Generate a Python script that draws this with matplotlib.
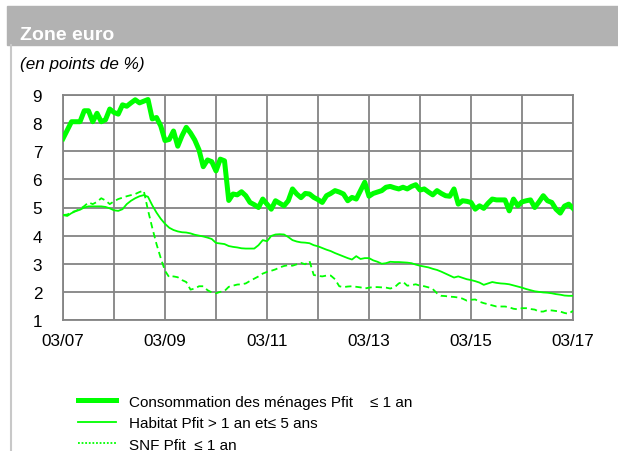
import numpy as np
import matplotlib.pyplot as plt
from matplotlib.lines import Line2D
from matplotlib.patches import Rectangle

plt.rcParams["font.family"] = ["Liberation Sans", "DejaVu Sans"]

GREEN = "#00ff00"
GRID = "#848484"

# monthly spreads, 03/2007 -> 03/2017 (points de %)
conso = [
    7.45, 7.75, 8.05, 8.05, 8.05, 8.44, 8.44, 8.05, 8.35, 8.05,
    8.12, 8.50, 8.38, 8.32, 8.65, 8.60, 8.72, 8.83, 8.72, 8.78,
    8.84, 8.15, 8.20, 7.90, 7.38, 7.42, 7.72, 7.18, 7.55, 7.85,
    7.65, 7.40, 7.05, 6.45, 6.69, 6.63, 6.30, 6.72, 6.66, 5.25,
    5.48, 5.45, 5.56, 5.42, 5.18, 5.10, 5.00, 5.30, 5.12, 4.94,
    5.24, 5.15, 5.06, 5.24, 5.66, 5.48, 5.35, 5.50, 5.48, 5.36,
    5.28, 5.18, 5.42, 5.50, 5.60, 5.55, 5.48, 5.24, 5.36, 5.30,
    5.60, 5.90, 5.40, 5.50, 5.55, 5.60, 5.72, 5.75, 5.70, 5.66,
    5.72, 5.66, 5.75, 5.81, 5.62, 5.66, 5.55, 5.45, 5.60, 5.50,
    5.42, 5.40, 5.66, 5.12, 5.24, 5.22, 5.18, 4.94, 5.06, 4.97,
    5.15, 5.30, 5.27, 5.27, 5.27, 4.88, 5.30, 5.06, 5.20, 5.24,
    5.27, 5.00, 5.20, 5.42, 5.24, 5.18, 4.94, 4.80, 5.05, 5.12,
    4.97,
]
habitat = [
    4.73, 4.70, 4.80, 4.87, 4.92, 5.00, 5.04, 5.04, 5.04, 5.04,
    5.02, 4.97, 4.90, 4.88, 4.94, 5.12, 5.24, 5.33, 5.40, 5.44,
    5.38, 5.08, 4.82, 4.60, 4.42, 4.28, 4.20, 4.15, 4.12, 4.11,
    4.08, 4.03, 4.00, 3.97, 3.93, 3.88, 3.74, 3.72, 3.70, 3.63,
    3.60, 3.58, 3.55, 3.54, 3.54, 3.54, 3.66, 3.84, 3.80, 3.99,
    4.04, 4.05, 4.04, 3.95, 3.84, 3.79, 3.76, 3.75, 3.73, 3.66,
    3.62, 3.56, 3.50, 3.45, 3.38, 3.32, 3.26, 3.20, 3.15, 3.27,
    3.17, 3.20, 3.20, 3.12, 3.07, 3.00, 3.02, 3.07, 3.06, 3.06,
    3.05, 3.04, 3.02, 2.97, 2.93, 2.90, 2.87, 2.82, 2.78, 2.72,
    2.65, 2.58, 2.51, 2.55, 2.50, 2.45, 2.42, 2.38, 2.33, 2.25,
    2.30, 2.35, 2.32, 2.30, 2.29, 2.27, 2.23, 2.19, 2.15, 2.10,
    2.06, 2.02, 2.00, 1.98, 1.97, 1.95, 1.92, 1.90, 1.87, 1.86,
    1.86,
]
snf = [
    4.73, 4.75, 4.83, 4.88, 4.95, 5.05, 5.18, 5.12, 5.20, 5.33,
    5.25, 5.12, 5.22, 5.30, 5.35, 5.40, 5.44, 5.48, 5.55, 5.60,
    4.90, 4.28, 3.70, 3.20, 2.75, 2.52, 2.55, 2.52, 2.42, 2.35,
    2.08, 2.12, 2.20, 2.20, 2.06, 1.98, 1.95, 2.00, 2.03, 2.18,
    2.22, 2.26, 2.27, 2.30, 2.39, 2.47, 2.55, 2.65, 2.71, 2.75,
    2.80, 2.87, 2.92, 2.95, 2.93, 2.98, 3.03, 2.98, 3.10, 2.60,
    2.57, 2.55, 2.58, 2.58, 2.45, 2.20, 2.17, 2.19, 2.20, 2.18,
    2.16, 2.12, 2.15, 2.17, 2.17, 2.16, 2.15, 2.12, 2.16, 2.30,
    2.36, 2.22, 2.24, 2.27, 2.22, 2.20, 2.16, 2.10, 1.95, 1.86,
    1.85, 1.83, 1.82, 1.80, 1.76, 1.69, 1.72, 1.73, 1.65, 1.60,
    1.56, 1.52, 1.48, 1.48, 1.48, 1.45, 1.40, 1.38, 1.42, 1.42,
    1.39, 1.37, 1.30, 1.30, 1.35, 1.34, 1.32, 1.30, 1.25, 1.22,
    1.33,
]
year_labels = ["03/07", "", "03/09", "", "03/11", "", "03/13", "", "03/15", "", "03/17"]
series_labels = [
    "Consommation des ménages Pfit    ≤ 1 an",
    "Habitat Pfit > 1 an et≤ 5 ans",
    "SNF Pfit  ≤ 1 an",
]

months = np.arange(len(conso))

fig = plt.figure(figsize=(6.18, 4.52), dpi=100)

# grey title band and left rule
fig.patches.append(Rectangle((7 / 618, 1 - 46 / 452), 611 / 618, 39 / 452,
                             transform=fig.transFigure, color="#b2b2b2", zorder=0))
fig.lines.append(Line2D([10.5 / 618, 10.5 / 618], [0, 1 - 46 / 452],
                        transform=fig.transFigure, color="#c8c8c8", lw=1.5))
fig.text(20 / 618, 1 - 35 / 452, "Zone euro", color="white", fontsize=14,
         fontweight="bold", va="center")
fig.text(20 / 618, 1 - 65 / 452, "(en points de %)", fontsize=12.3,
         style="italic", va="center")

ax = fig.add_axes([63 / 618, 1 - 321 / 452, 510 / 618, 225 / 452])
ax.plot(months, conso, color=GREEN, lw=3.6, solid_joinstyle="round",
        label=series_labels[0], zorder=4)
ax.plot(months, habitat, color=GREEN, lw=1.3, label=series_labels[1], zorder=3)
ax.plot(months, snf, color=GREEN, lw=1.3, dashes=(3.5, 2.2), label=series_labels[2], zorder=3)

ax.set_xlim(0, 120)
ax.set_ylim(1, 9)
ax.set_xticks(np.arange(0, 121, 12))
ax.set_xticklabels(year_labels)
ax.set_yticks(np.arange(1, 10))
ax.tick_params(length=0, labelsize=12.3)
ax.tick_params(axis="y", pad=15)
ax.tick_params(axis="x", pad=9)
ax.grid(True, color=GRID, lw=1.3)
ax.set_axisbelow(True)
for sp in ax.spines.values():
    sp.set_color(GRID)
    sp.set_linewidth(1.3)

handles = [
    Line2D([], [], color=GREEN, lw=3.6),
    Line2D([], [], color=GREEN, lw=1.3),
    Line2D([], [], color=GREEN, lw=1.3, linestyle=(0, (1, 1))),
]
fig.legend(handles, series_labels, loc="upper left",
           bbox_to_anchor=(76 / 618, 1 - 394 / 452), frameon=False,
           fontsize=11, handlelength=2.5, handletextpad=0.9,
           labelspacing=0.5, borderaxespad=0, borderpad=0.1)

fig.savefig("out.png", dpi=100)
